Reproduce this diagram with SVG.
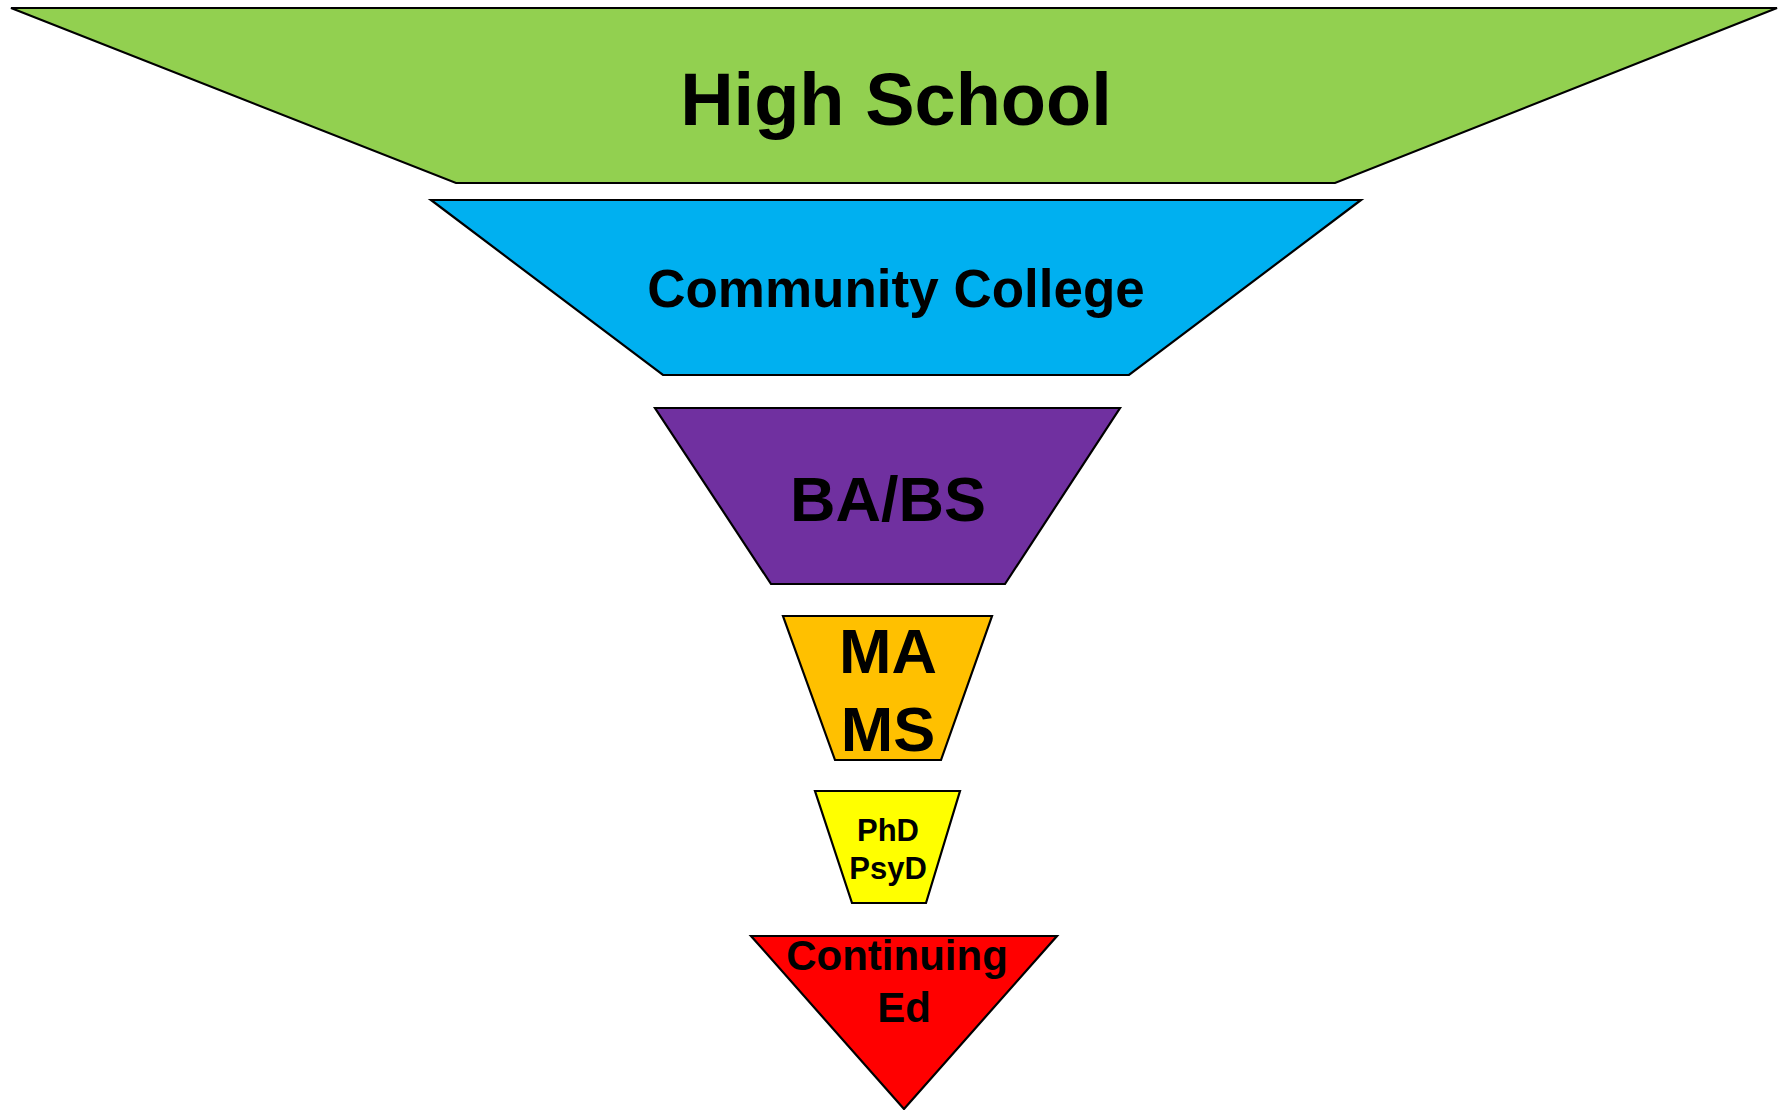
<svg xmlns="http://www.w3.org/2000/svg" width="1791" height="1110" viewBox="0 0 1791 1110">
<style>
.s{stroke:#000;stroke-width:2.2;stroke-linejoin:miter}
.t{font-family:"Liberation Sans",Arial,sans-serif;font-weight:bold;fill:#000;text-anchor:middle}
</style>
<rect width="1791" height="1110" fill="#fff"/>
<g id="high-school">
<polygon class="s" fill="#92D050" points="11,8 1777,8 1335,183 456,183"/>
<text class="t" x="896" y="125" font-size="74">High School</text>
</g>
<g id="community-college">
<polygon class="s" fill="#00B0F0" points="431,200 1361,200 1129,375 663,375"/>
<text class="t" x="896" y="307" font-size="53">Community College</text>
</g>
<g id="ba-bs">
<polygon class="s" fill="#7030A0" points="655,408 1120,408 1005,584 771,584"/>
<text class="t" x="888" y="521" font-size="63">BA/BS</text>
</g>
<g id="ma-ms">
<polygon class="s" fill="#FFC000" points="783,616 992,616 941,760 835,760"/>
<text class="t" x="888" y="673" font-size="63">MA</text>
<text class="t" x="888" y="751" font-size="63">MS</text>
</g>
<g id="phd-psyd">
<polygon class="s" fill="#FFFF00" points="815,791 960,791 926,903 852,903"/>
<text class="t" x="888" y="841" font-size="31">PhD</text>
<text class="t" x="888" y="879" font-size="31">PsyD</text>
</g>
<g id="continuing-ed">
<polygon class="s" fill="#FF0000" points="751,936 1057,936 904,1109"/>
<text class="t" x="897" y="970" font-size="42">Continuing</text>
<text class="t" x="904" y="1022" font-size="42">Ed</text>
</g>
<g id="connectors"></g>
</svg>
